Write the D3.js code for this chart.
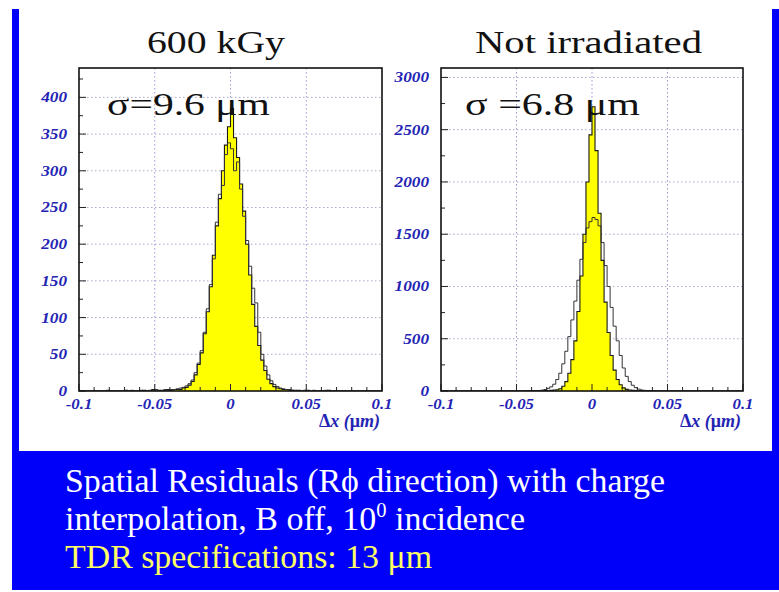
<!DOCTYPE html>
<html>
<head>
<meta charset="utf-8">
<script src="https://cdn.jsdelivr.net/npm/d3@7/dist/d3.min.js"></script>
<style>
  html, body { margin: 0; padding: 0; background: #ffffff; }
  svg { display: block; }
</style>
</head>
<body>
<script>
// Residual histograms, 100 bins over [-0.1, 0.1]
const binRange = [-0.1, 0.1];

// 600 kGy: filled histogram and overlaid outline histogram
const irradiatedFill = [
  0, 0, 0, 0, 0, 0, 0, 0, 0, 0,
  0, 0, 0, 0, 0, 1, 0, 0, 0, 0,
  0, 1, 0, 0, 2, 0, 1, 0, 1, 2,
  1, 2, 2, 2, 4, 5, 8, 13, 22, 36,
  52, 78, 108, 142, 185, 225, 262, 300, 335, 360,
  385, 345, 318, 282, 245, 200, 158, 118, 88, 62,
  42, 28, 16, 10, 6, 4, 3, 2, 2, 1,
  1, 0, 1, 0, 0, 1, 0, 0, 0, 0,
  0, 0, 1, 0, 0, 0, 0, 0, 0, 0,
  0, 0, 0, 0, 0, 0, 0, 0, 0, 0
];
const irradiatedLine = [
  0, 0, 0, 0, 0, 0, 0, 0, 0, 1,
  0, 0, 0, 0, 0, 0, 0, 1, 0, 0,
  1, 0, 0, 1, 0, 2, 0, 1, 2, 1,
  2, 2, 3, 4, 5, 7, 10, 15, 25, 38,
  55, 80, 112, 145, 180, 230, 268, 280, 322, 338,
  330, 300, 312, 275, 238, 205, 170, 140, 120, 80,
  50, 34, 22, 14, 9, 6, 4, 3, 2, 2,
  1, 1, 0, 0, 1, 0, 0, 1, 0, 0,
  0, 1, 0, 0, 0, 0, 0, 0, 0, 0,
  0, 0, 0, 0, 0, 0, 0, 0, 0, 0
];

// Not irradiated: filled histogram and overlaid outline histogram
const freshFill = [
  0, 0, 0, 0, 0, 0, 0, 0, 0, 0,
  0, 0, 0, 0, 0, 0, 0, 0, 0, 0,
  0, 0, 0, 0, 0, 2, 0, 0, 1, 0,
  2, 2, 3, 3, 4, 5, 6, 8, 12, 22,
  45, 90, 170, 300, 480, 760, 1100, 1500, 2000, 2450,
  2720, 2300, 1700, 1250, 850, 560, 340, 200, 110, 60,
  30, 16, 9, 6, 4, 3, 3, 2, 2, 1,
  0, 0, 0, 0, 0, 0, 0, 0, 0, 0,
  0, 0, 0, 0, 0, 0, 0, 0, 0, 0,
  0, 0, 0, 0, 0, 0, 0, 0, 0, 0
];
const freshLine = [
  0, 0, 0, 0, 0, 0, 0, 0, 0, 0,
  0, 0, 0, 0, 0, 0, 0, 0, 0, 0,
  0, 0, 0, 0, 1, 0, 0, 2, 1, 2,
  3, 4, 5, 8, 14, 25, 40, 65, 110, 170,
  260, 380, 520, 680, 860, 1060, 1260, 1420, 1560, 1620,
  1660, 1640, 1580, 1420, 1200, 1000, 800, 620, 480, 340,
  220, 140, 90, 55, 32, 18, 10, 6, 4, 3,
  2, 1, 1, 0, 0, 0, 0, 0, 0, 0,
  0, 0, 0, 0, 0, 0, 0, 0, 0, 0,
  0, 0, 0, 0, 0, 0, 0, 0, 0, 0
];

const panelTitles = ["600 kGy", "Not irradiated"];
const sigmaLabels = ["\u03c3=9.6 \u03bcm", "\u03c3 =6.8 \u03bcm"];
const yMaxima = [440, 3090];
const xTicks = [-0.1, -0.05, 0, 0.05, 0.1];
const xTickLabels = ["-0.1", "-0.05", "0", "0.05", "0.1"];
const yTicksLeft = [0, 50, 100, 150, 200, 250, 300, 350, 400];
const yTicksRight = [0, 500, 1000, 1500, 2000, 2500, 3000];
const captionLines = [
  "Spatial Residuals (R\u03d5 direction) with charge",
  "interpolation, B off, 10",
  "TDR specifications: 13 \u03bcm"
];

const W = 779, H = 592;
const BLUE = "#0000fa";
const TICK_BLUE = "#2424b4";
const SERIF = "'Liberation Serif', 'Times New Roman', serif";

const svg = d3.select("body").append("svg")
  .attr("width", W).attr("height", H)
  .attr("viewBox", `0 0 ${W} ${H}`);

// slide frame: blue border around a white plotting area
svg.append("rect").attr("x", 0).attr("y", 0).attr("width", W).attr("height", H).attr("fill", "#ffffff");
svg.append("rect").attr("x", 12).attr("y", 9).attr("width", W - 12).attr("height", H - 11).attr("fill", BLUE);
svg.append("rect").attr("x", 19).attr("y", 0).attr("width", 753).attr("height", 451).attr("fill", "#ffffff");

const panels = [
  { left: 79, right: 382, top: 68, bottom: 391, fill: irradiatedFill, line: irradiatedLine,
    yTicks: yTicksLeft, yMinorStep: 25, title: panelTitles[0], titleX: 147, titleW: 138,
    sigma: sigmaLabels[0], sigmaX: 107, sigmaW: 163, yMax: yMaxima[0] },
  { left: 441, right: 743, top: 68, bottom: 391, fill: freshFill, line: freshLine,
    yTicks: yTicksRight, yMinorStep: 250, title: panelTitles[1], titleX: 475, titleW: 227,
    sigma: sigmaLabels[1], sigmaX: 465, sigmaW: 175, yMax: yMaxima[1] }
];

function stepPoints(values) {
  const n = values.length;
  const w = (binRange[1] - binRange[0]) / n;
  const pts = [[binRange[0], 0]];
  values.forEach((v, i) => {
    pts.push([binRange[0] + i * w, v]);
    pts.push([binRange[0] + (i + 1) * w, v]);
  });
  pts.push([binRange[1], 0]);
  return pts;
}

panels.forEach((p, k) => {
  const x = d3.scaleLinear().domain(binRange).range([p.left, p.right]);
  const y = d3.scaleLinear().domain([0, p.yMax]).range([p.bottom, p.top]);
  const g = svg.append("g");

  const clipId = "clip" + k;
  svg.append("clipPath").attr("id", clipId).append("rect")
    .attr("x", p.left).attr("y", p.top)
    .attr("width", p.right - p.left).attr("height", p.bottom - p.top);

  // dotted grid
  const grid = g.append("g").attr("stroke-dasharray", "1.5,2.5").attr("stroke-width", 1);
  grid.selectAll("line.h").data(p.yTicks.filter(t => t > 0)).join("line")
    .attr("x1", p.left).attr("x2", p.right)
    .attr("y1", d => y(d)).attr("y2", d => y(d))
    .attr("stroke", "#a8a8cc");
  grid.selectAll("line.v").data(xTicks.slice(1, -1)).join("line")
    .attr("x1", d => x(d)).attr("x2", d => x(d))
    .attr("y1", p.top).attr("y2", p.bottom)
    .attr("stroke", "#9898dc");

  const plot = g.append("g").attr("clip-path", `url(#${clipId})`);
  const area = d3.area().x(d => x(d[0])).y0(y(0)).y1(d => y(d[1]));
  const line = d3.line().x(d => x(d[0])).y(d => y(d[1]));

  plot.append("path").datum(stepPoints(p.fill))
    .attr("d", area).attr("fill", "#ffff00");
  plot.append("path").datum(stepPoints(p.fill))
    .attr("d", line).attr("fill", "none").attr("stroke", "#1a1a1a").attr("stroke-width", 1.1);
  plot.append("path").datum(stepPoints(p.line))
    .attr("d", line).attr("fill", "none").attr("stroke", "#333333").attr("stroke-width", 1);

  // axis ticks drawn inward from the frame
  const ticks = g.append("g").attr("stroke", "#222").attr("stroke-width", 1);
  const yMinor = d3.range(0, p.yMax, p.yMinorStep);
  ticks.selectAll("line.ym").data(yMinor).join("line")
    .attr("x1", p.left).attr("x2", d => p.left + (p.yTicks.includes(d) ? 7 : 4))
    .attr("y1", d => y(d)).attr("y2", d => y(d));
  const xMinor = d3.range(-0.1, 0.1001, 0.01);
  ticks.selectAll("line.xm").data(xMinor).join("line")
    .attr("x1", d => x(d)).attr("x2", d => x(d))
    .attr("y1", p.bottom).attr("y2", (d, i) => p.bottom - (i % 5 === 0 ? 7 : 4));

  // frame
  g.append("rect").attr("x", p.left).attr("y", p.top)
    .attr("width", p.right - p.left).attr("height", p.bottom - p.top)
    .attr("fill", "none").attr("stroke", "#111").attr("stroke-width", 1.6);

  // y tick labels
  g.append("g").selectAll("text").data(p.yTicks).join("text")
    .attr("transform", d => `translate(${p.left - 12},${y(d) + 5}) scale(1.15,1)`)
    .attr("text-anchor", "end")
    .attr("font-family", SERIF).attr("font-weight", "bold").attr("font-style", "italic")
    .attr("font-size", 15).attr("fill", TICK_BLUE)
    .text(d => d);

  // x tick labels
  g.append("g").selectAll("text").data(xTicks).join("text")
    .attr("transform", d => `translate(${x(d)},${p.bottom + 18}) scale(1.12,1)`)
    .attr("text-anchor", "middle")
    .attr("font-family", SERIF).attr("font-weight", "bold").attr("font-style", "italic")
    .attr("font-size", 15).attr("fill", TICK_BLUE)
    .text((d, i) => xTickLabels[i]);

  // x axis title
  const ax = g.append("text")
    .attr("transform", `translate(${p.right - 2},${p.bottom + 36})`)
    .attr("text-anchor", "end")
    .attr("font-family", SERIF).attr("font-weight", "bold")
    .attr("font-size", 18).attr("fill", TICK_BLUE);
  ax.append("tspan").text("\u0394");
  ax.append("tspan").attr("font-style", "italic").text("x (");
  ax.append("tspan").text("\u03bc");
  ax.append("tspan").attr("font-style", "italic").text("m)");

  // panel title
  g.append("text").attr("x", p.titleX).attr("y", 53)
    .attr("textLength", p.titleW).attr("lengthAdjust", "spacingAndGlyphs")
    .attr("font-family", SERIF).attr("font-size", 31).attr("fill", "#111")
    .text(p.title);

  // resolution label
  g.append("text").attr("x", p.sigmaX).attr("y", 115)
    .attr("textLength", p.sigmaW).attr("lengthAdjust", "spacingAndGlyphs")
    .attr("font-family", SERIF).attr("font-size", 31).attr("fill", "#111")
    .text(p.sigma);
});

// caption on the blue band
const cap = svg.append("g").attr("font-family", SERIF).attr("font-size", 33);
cap.append("text").attr("x", 65).attr("y", 492)
  .attr("textLength", 600).attr("lengthAdjust", "spacingAndGlyphs")
  .attr("fill", "#ffffff").text(captionLines[0]);
const l2 = cap.append("text").attr("x", 65).attr("y", 530)
  .attr("textLength", 460).attr("lengthAdjust", "spacingAndGlyphs")
  .attr("fill", "#ffffff");
l2.append("tspan").text(captionLines[1]);
l2.append("tspan").attr("font-size", 20).attr("dy", -13).text("0");
l2.append("tspan").attr("dy", 13).text(" incidence");
cap.append("text").attr("x", 65).attr("y", 568)
  .attr("textLength", 367).attr("lengthAdjust", "spacingAndGlyphs")
  .attr("fill", "#ffff66").text(captionLines[2]);
</script>
</body>
</html>
